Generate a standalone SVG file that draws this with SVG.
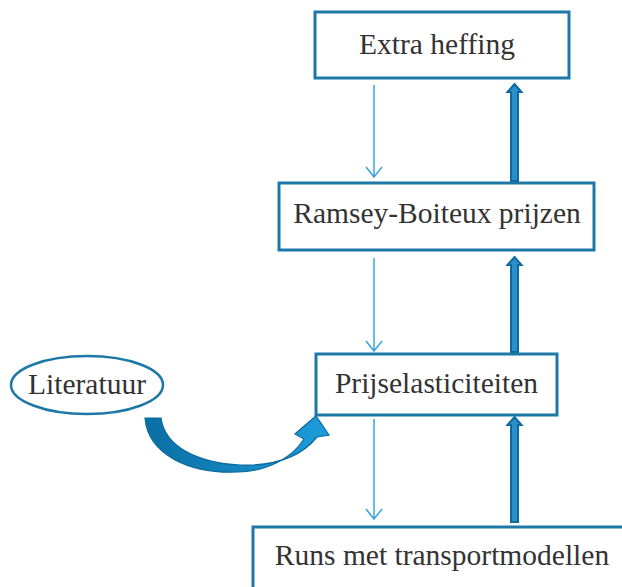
<svg xmlns="http://www.w3.org/2000/svg" width="622" height="587" viewBox="0 0 622 587">
<defs>
<style>
.box{fill:#fff;stroke:#1d78a8;stroke-width:3}
.lbl{font-family:"Liberation Serif","DejaVu Serif",serif;font-size:29.5px;fill:#333;text-anchor:middle}
.thin{stroke:#3aa6df;stroke-width:1.5;fill:none}
.thick{fill:#2b8fcc;stroke:#0b6a9e;stroke-width:2;stroke-linejoin:miter}
</style>
<linearGradient id="cg" x1="0" y1="0" x2="1" y2="0">
<stop offset="0" stop-color="#0a6ea3"/>
<stop offset="1" stop-color="#1d9ddc"/>
</linearGradient>
</defs>
<rect width="622" height="587" fill="#fff"/>
<g id="connectors">
<path class="thin" d="M374,85 V177 M366,167 L374,177 L382,167"/>
<path class="thin" d="M374,258 V351 M366,341 L374,351 L382,341"/>
<path class="thin" d="M374,419 V519 M366,509 L374,519 L382,509"/>
<path class="thick" d="M511,181 V92 H507.5 L514.5,84 L521.5,92 H518 V181 Z"/>
<path class="thick" d="M511,352 V265 H507.5 L514.5,257 L521.5,265 H518 V352 Z"/>
<path class="thick" d="M511,522 V425 H507.5 L514.5,417 L521.5,425 H518 V522 Z"/>
<path d="M145,418 C148,455 190,474 238,472 C268,471 292,458 304,439 L295,434 L316,416 L329,435 L317,437 C300,458 272,466 240,465 C198,463 165,447 161,418 Z" fill="url(#cg)" stroke="#0b6a9e" stroke-width="1.2"/>
</g>
<g id="extra">
<rect class="box" x="315" y="12" width="254" height="66"/>
<text class="lbl" x="437" y="54">Extra heffing</text>
</g>
<g id="ramsey">
<rect class="box" x="279" y="183" width="315" height="67"/>
<text class="lbl" x="437" y="223">Ramsey-Boiteux prijzen</text>
</g>
<g id="prijs">
<rect class="box" x="316" y="354" width="241" height="61"/>
<text class="lbl" x="436.5" y="393">Prijselasticiteiten</text>
</g>
<g id="literatuur">
<ellipse cx="87" cy="385" rx="76" ry="29" fill="#fff" stroke="#1d78a8" stroke-width="2.5"/>
<text class="lbl" x="87" y="394">Literatuur</text>
</g>
<g id="runs">
<rect class="box" x="253" y="527" width="400" height="100"/>
<text class="lbl" x="442" y="565">Runs met transportmodellen</text>
</g>
</svg>
